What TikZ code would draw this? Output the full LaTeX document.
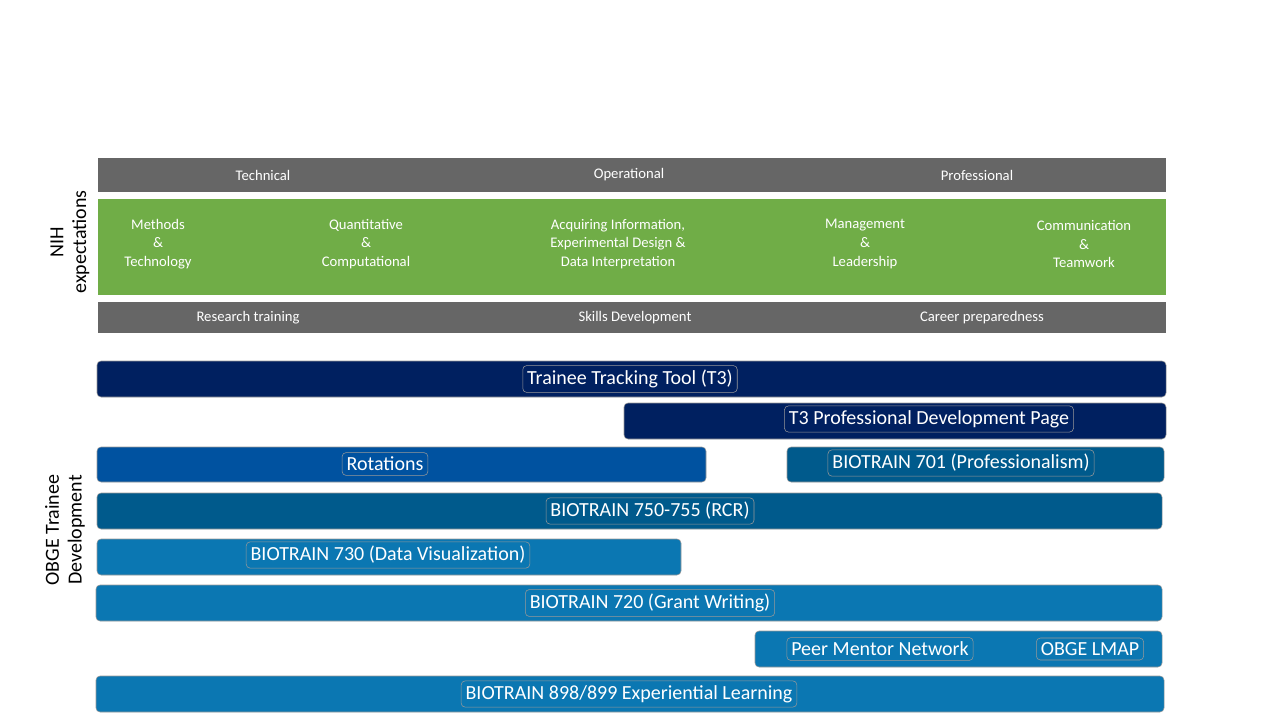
\documentclass[tikz,border=0pt]{standalone}
\usepackage{fontspec}
\setmainfont{Carlito}
\definecolor{barGray}{HTML}{666666}
\definecolor{nihGreen}{HTML}{70AD47}
\definecolor{navyBar}{HTML}{002060}
\definecolor{blueBar}{HTML}{0052A0}
\definecolor{tealBar}{HTML}{005A8C}
\definecolor{lightBar}{HTML}{0B77B2}
\begin{document}
\begin{tikzpicture}[x=0.75pt, y=-0.75pt,
	head/.style={font=\fontsize{11}{13}\selectfont, text=white},
	skill/.style={font=\fontsize{11}{13}\selectfont, text=white, align=center},
	bar/.style={draw=black!40, rounded corners=3pt, text=white, font=\fontsize{15}{18}\selectfont},
	side/.style={rotate=90, align=center, font=\fontsize{15}{17}\selectfont}]

	\useasboundingbox (0,0) rectangle (1280,720);

	%NIH Bloecke
	\fill [barGray] (98,158) rectangle (1166,192);
	\fill [nihGreen] (98,199) rectangle (1166,295);
	\fill [barGray] (98,302) rectangle (1166,333);

	\node [head] (tech) at (263,175) {Technical};
	\node [head] (oper) at (629,175) {Operational};
	\node [head] (prof) at (977,175) {Professional};

	\node [skill] (meth) at (158,244) {Methods\\[1pt]\&\\[1pt]Technology};
	\node [skill] (quant) at (366,244) {Quantitative\\[1pt]\&\\[1pt]Computational};
	\node [skill] (acq) at (618,244) {Acquiring Information,\\[1pt]Experimental Design \&\\[1pt]Data Interpretation};
	\node [skill] (mgmt) at (865,244) {Management\\[1pt]\&\\[1pt]Leadership};
	\node [skill] (comm) at (1084,244) {Communication\\[1pt]\&\\[1pt]Teamwork};

	\node [head] (resr) at (248,318) {Research training};
	\node [head] (skdev) at (635,318) {Skills Development};
	\node [head] (career) at (982,318) {Career preparedness};

	\node [side] (nih) at (70,242) {NIH\\expectations};

	%OBGE Balken
	\fill [bar, fill=navyBar] (97,361) rectangle (1166,397);
	\node [bar] (ttt) at (630,379) {Trainee Tracking Tool (T3)};
	\fill [bar, fill=navyBar] (624,403) rectangle (1166,439);
	\node [bar] (pdp) at (929,419) {T3 Professional Development Page};
	\fill [bar, fill=blueBar] (97,447) rectangle (706,482);
	\node [bar] (rot) at (385,464) {Rotations};
	\fill [bar, fill=tealBar] (787,447) rectangle (1164,482);
	\node [bar] (bt701) at (961,463) {BIOTRAIN 701 (Professionalism)};
	\fill [bar, fill=tealBar] (97,493) rectangle (1162,529);
	\node [bar] (bt750) at (650,511) {BIOTRAIN 750-755 (RCR)};
	\fill [bar, fill=lightBar] (97,539) rectangle (681,575);
	\node [bar] (bt730) at (388,555) {BIOTRAIN 730 (Data Visualization)};
	\fill [bar, fill=lightBar] (96,585) rectangle (1162,621);
	\node [bar] (bt720) at (650,603) {BIOTRAIN 720 (Grant Writing)};
	\fill [bar, fill=lightBar] (755,631) rectangle (1162,667);
	\node [bar] (peer) at (880,649) {Peer Mentor Network};
	\node [bar] (lmap) at (1090,649) {OBGE LMAP};
	\fill [bar, fill=lightBar] (96,676) rectangle (1164,712);
	\node [bar] (bt898) at (629,694) {BIOTRAIN 898/899 Experiential Learning};

	\node [side] (obge) at (65,530) {OBGE Trainee\\Development};

\end{tikzpicture}
\end{document}
